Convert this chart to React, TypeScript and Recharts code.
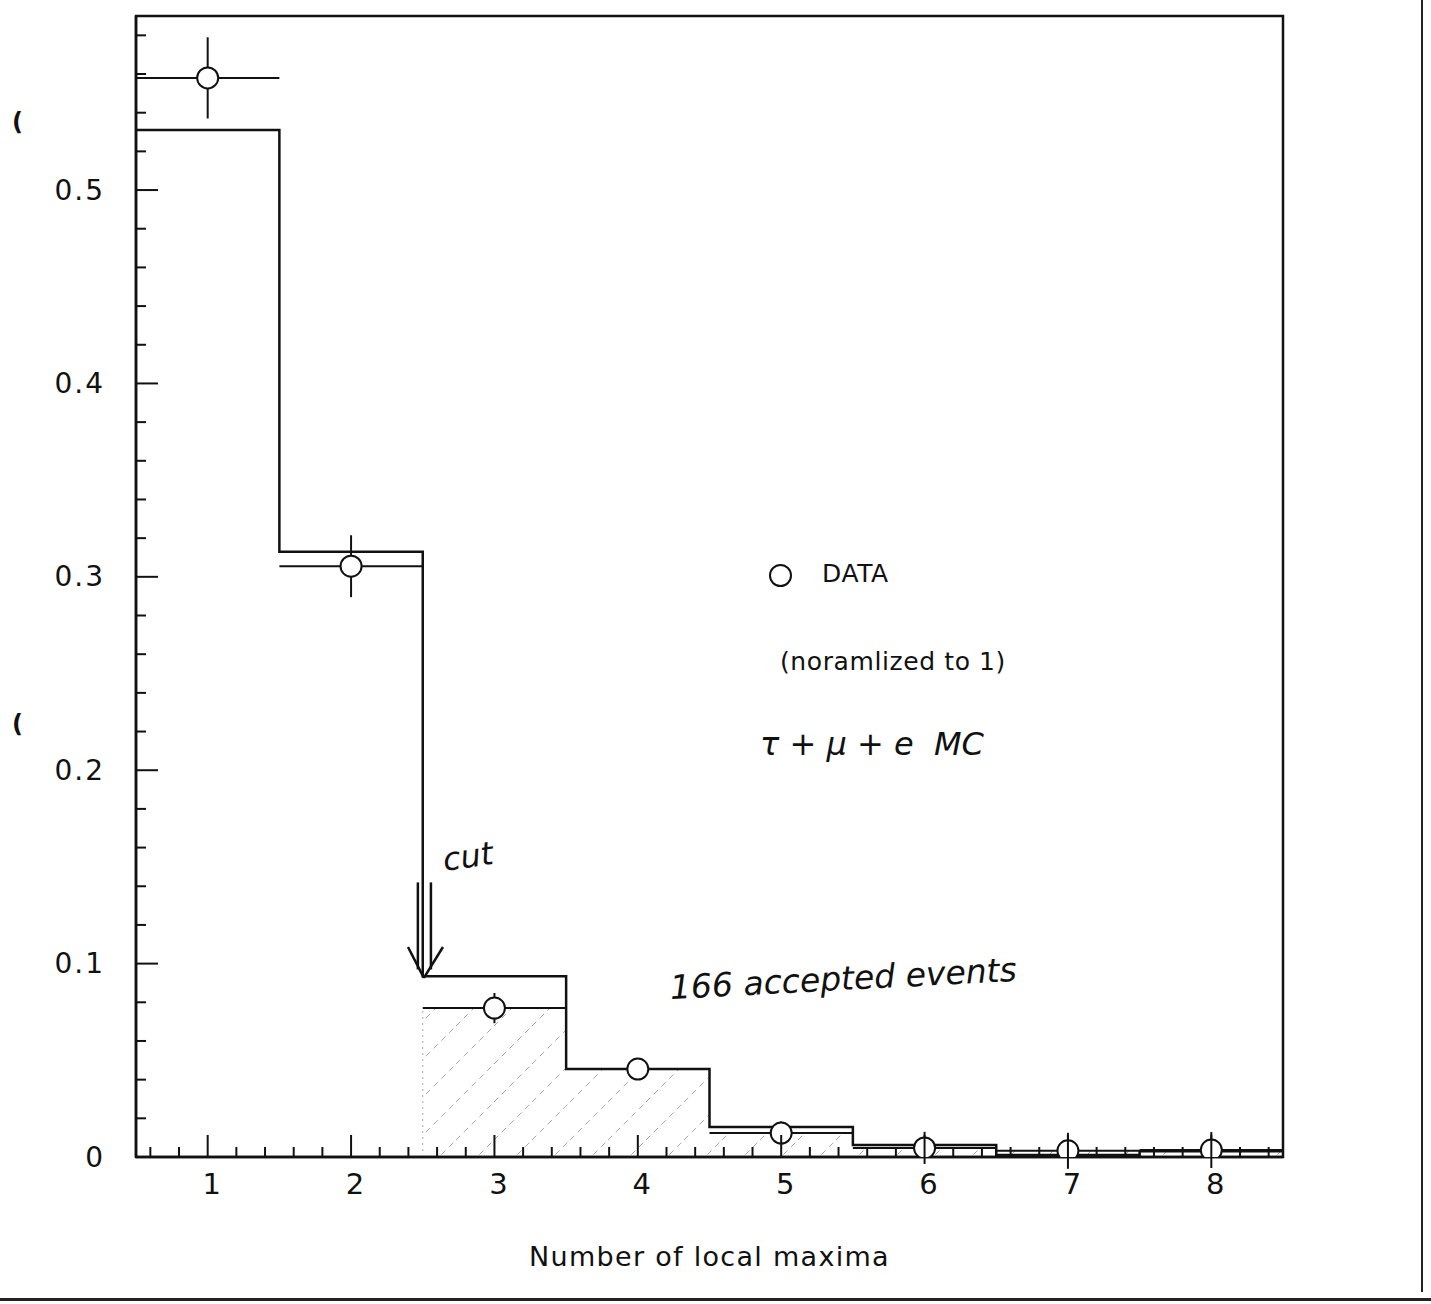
import type { CSSProperties } from "react";
import {
  Area,
  ComposedChart,
  ErrorBar,
  Line,
  ReferenceArea,
  ReferenceLine,
  Scatter,
  XAxis,
  YAxis,
} from "recharts";

// histogram binning (number of local maxima)
const binEdges = [0.5, 1.5, 2.5, 3.5, 4.5, 5.5, 6.5, 7.5, 8.5];
const binCenters = [1, 2, 3, 4, 5, 6, 7, 8];
// tau + mu + e MC, normalised
const mcValues = [0.531, 0.313, 0.0935, 0.0455, 0.0155, 0.0062, 0.001, 0.003];
// data points, normalised to 1
const dataValues = [0.558, 0.3055, 0.077, 0.0455, 0.0124, 0.0047, 0.0032, 0.0036];
const dataErrors = [0.021, 0.016, 0.0078, 0.004, 0.006, 0.0083, 0.0093, 0.0093];
const firstAcceptedBin = 2; // bins from x = 3 on pass the cut

const xMajorTicks = [1, 2, 3, 4, 5, 6, 7, 8];
const xMinorTicks = [
  0.6, 0.8, 1.2, 1.4, 1.6, 1.8, 2.2, 2.4, 2.6, 2.8, 3.2, 3.4, 3.6, 3.8, 4.2,
  4.4, 4.6, 4.8, 5.2, 5.4, 5.6, 5.8, 6.2, 6.4, 6.6, 6.8, 7.2, 7.4, 7.6, 7.8,
  8.2, 8.4,
];
const yMajorTicks = [0, 0.1, 0.2, 0.3, 0.4, 0.5];
const yTickLabels = ["0", "0.1", "0.2", "0.3", "0.4", "0.5"];
const yMinorTicks = [
  0.02, 0.04, 0.06, 0.08, 0.12, 0.14, 0.16, 0.18, 0.22, 0.24, 0.26, 0.28, 0.32,
  0.34, 0.36, 0.38, 0.42, 0.44, 0.46, 0.48, 0.52, 0.54, 0.56, 0.58,
];

// hand-drawn "cut" arrow, in data coordinates
const cutArrowLines = [
  [{ x: 2.466, y: 0.142 }, { x: 2.466, y: 0.097 }],
  [{ x: 2.557, y: 0.142 }, { x: 2.557, y: 0.097 }],
  [{ x: 2.397, y: 0.1086 }, { x: 2.508, y: 0.0926 }],
  [{ x: 2.641, y: 0.1086 }, { x: 2.508, y: 0.0926 }],
];

const INK = "#111";
const FONT = '"DejaVu Sans", sans-serif';
const HAND = '"DejaVu Sans", sans-serif';

const mcRows = binEdges.map((x, i) => ({
  x,
  y: mcValues[Math.min(i, mcValues.length - 1)],
}));
const dataRows = binCenters.map((x, i) => ({
  x,
  y: dataValues[i],
  yErr: dataErrors[i],
  xErr: 0.5,
}));
const hatchRows = binEdges.slice(firstAcceptedBin).map((x, i) => ({
  x,
  y: dataValues[Math.min(firstAcceptedBin + i, dataValues.length - 1)],
}));

function XTick(props: any) {
  const { x, y, payload } = props;
  const major = xMajorTicks.includes(payload.value);
  return (
    <g>
      <line x1={x} x2={x} y1={y} y2={y - (major ? 22 : 10)} stroke={INK} strokeWidth={2} />
      {major && (
        <text
          x={x + 4}
          y={y + 27}
          textAnchor="middle"
          dominantBaseline="central"
          fontFamily={FONT}
          fontSize={29}
          fill={INK}
        >
          {payload.value}
        </text>
      )}
    </g>
  );
}

function YTick(props: any) {
  const { x, y, payload } = props;
  const idx = yMajorTicks.indexOf(payload.value);
  const major = idx >= 0;
  return (
    <g>
      <line x1={x} x2={x + (major ? 22 : 10)} y1={y} y2={y} stroke={INK} strokeWidth={2} />
      {major && (
        <text
          x={x - 31}
          y={y}
          textAnchor="end"
          dominantBaseline="central"
          fontFamily={FONT}
          fontSize={28}
          letterSpacing={2}
          fill={INK}
        >
          {yTickLabels[idx]}
        </text>
      )}
    </g>
  );
}

function DataSymbol(props: any) {
  const { cx, cy } = props;
  return <circle cx={cx} cy={cy} r={10.5} fill="#fff" stroke={INK} strokeWidth={2} />;
}

export default function App() {
  return (
    <div style={styles.page}>
      <ComposedChart
        width={1431}
        height={1304}
        margin={{ top: 16, right: 148, bottom: 0, left: 0 }}
      >
        <defs>
          <pattern id="hatch" patternUnits="userSpaceOnUse" width={38} height={38}>
            <line
              x1={0}
              y1={38}
              x2={38}
              y2={0}
              stroke="#a8a8a8"
              strokeWidth={1}
              strokeDasharray="6 5"
            />
          </pattern>
        </defs>
        <XAxis
          dataKey="x"
          type="number"
          domain={[0.5, 8.5]}
          allowDataOverflow
          ticks={[...xMajorTicks, ...xMinorTicks].sort((a, b) => a - b)}
          interval={0}
          tickSize={0}
          tickMargin={0}
          tickLine={false}
          tick={XTick}
          height={147}
          axisLine={{ stroke: INK, strokeWidth: 2.5 }}
          label={{
            value: "Number of local maxima",
            position: "insideBottom",
            offset: 38,
            fill: INK,
            fontSize: 27,
            fontFamily: FONT,
            letterSpacing: 1.3,
          }}
        />
        <YAxis
          dataKey="y"
          type="number"
          domain={[0, 0.59]}
          allowDataOverflow
          ticks={[...yMajorTicks, ...yMinorTicks].sort((a, b) => a - b)}
          interval={0}
          tickSize={0}
          tickMargin={0}
          tickLine={false}
          tick={YTick}
          width={136}
          axisLine={{ stroke: INK, strokeWidth: 2.5 }}
        />
        <Area
          data={hatchRows}
          dataKey="y"
          type="stepAfter"
          fill="url(#hatch)"
          fillOpacity={1}
          stroke="none"
          isAnimationActive={false}
        />
        <ReferenceLine
          segment={[
            { x: binEdges[firstAcceptedBin], y: 0 },
            { x: binEdges[firstAcceptedBin], y: dataValues[firstAcceptedBin] },
          ]}
          stroke="#aaa"
          strokeWidth={1}
          strokeDasharray="2 4"
        />
        <Scatter
          data={dataRows}
          dataKey="y"
          shape={DataSymbol}
          isAnimationActive={false}
        >
          <ErrorBar dataKey="yErr" direction="y" width={0} stroke={INK} strokeWidth={2} />
          <ErrorBar dataKey="xErr" direction="x" width={0} stroke={INK} strokeWidth={2} />
        </Scatter>
        <Line
          data={mcRows}
          dataKey="y"
          type="stepAfter"
          stroke={INK}
          strokeWidth={2.5}
          dot={false}
          activeDot={false}
          isAnimationActive={false}
        />
        {cutArrowLines.map((seg, i) => (
          <ReferenceLine
            key={i}
            segment={seg}
            stroke={INK}
            strokeWidth={2.5}
            ifOverflow="visible"
          />
        ))}
        <ReferenceArea
          x1={0.5}
          x2={8.5}
          y1={0}
          y2={0.59}
          fill="none"
          stroke={INK}
          strokeWidth={2.5}
          ifOverflow="visible"
        />
      </ComposedChart>

      {/* legend / notes */}
      <div style={{ ...styles.legendCircle, left: 769, top: 564 }} />
      <div style={{ ...styles.note, left: 822, top: 558, fontSize: 25 }}>DATA</div>
      <div style={{ ...styles.note, left: 780, top: 646, fontSize: 25 }}>
        (noramlized to 1)
      </div>
      <div style={{ ...styles.hand, left: 760, top: 722 }}>τ + μ + e&nbsp;&nbsp;MC</div>
      <div style={{ ...styles.hand, left: 443, top: 838, transform: "rotate(-8deg)" }}>
        cut
      </div>
      <div
        style={{
          ...styles.hand,
          left: 670,
          top: 966,
          fontSize: 33,
          transform: "rotate(-3deg)",
        }}
      >
        166 accepted events
      </div>

      {/* scan edges */}
      <div style={styles.punch1}>(</div>
      <div style={styles.punch2}>(</div>
      <div style={styles.edgeRight} />
      <div style={styles.edgeBottom} />
    </div>
  );
}

const styles: Record<string, CSSProperties> = {
  page: {
    position: "absolute",
    left: 0,
    top: 0,
    width: 1431,
    height: 1304,
    background: "#fff",
    overflow: "hidden",
    fontFamily: FONT,
    color: INK,
  },
  legendCircle: {
    position: "absolute",
    width: 19,
    height: 19,
    borderRadius: "50%",
    border: `2px solid ${INK}`,
  },
  note: {
    position: "absolute",
    fontSize: 24,
    lineHeight: "32px",
    whiteSpace: "nowrap",
    letterSpacing: 0.6,
  },
  hand: {
    position: "absolute",
    fontFamily: HAND,
    fontStyle: "italic",
    fontSize: 32,
    lineHeight: "44px",
    whiteSpace: "nowrap",
    transformOrigin: "left center",
  },
  punch1: {
    position: "absolute",
    left: 12,
    top: 108,
    fontSize: 24,
    fontWeight: 700,
  },
  punch2: {
    position: "absolute",
    left: 12,
    top: 710,
    fontSize: 24,
    fontWeight: 700,
  },
  edgeRight: {
    position: "absolute",
    left: 1421,
    top: 0,
    width: 2,
    height: 1292,
    background: "#222",
  },
  edgeBottom: {
    position: "absolute",
    left: 0,
    top: 1298,
    width: 1431,
    height: 3,
    background: "#222",
  },
};
